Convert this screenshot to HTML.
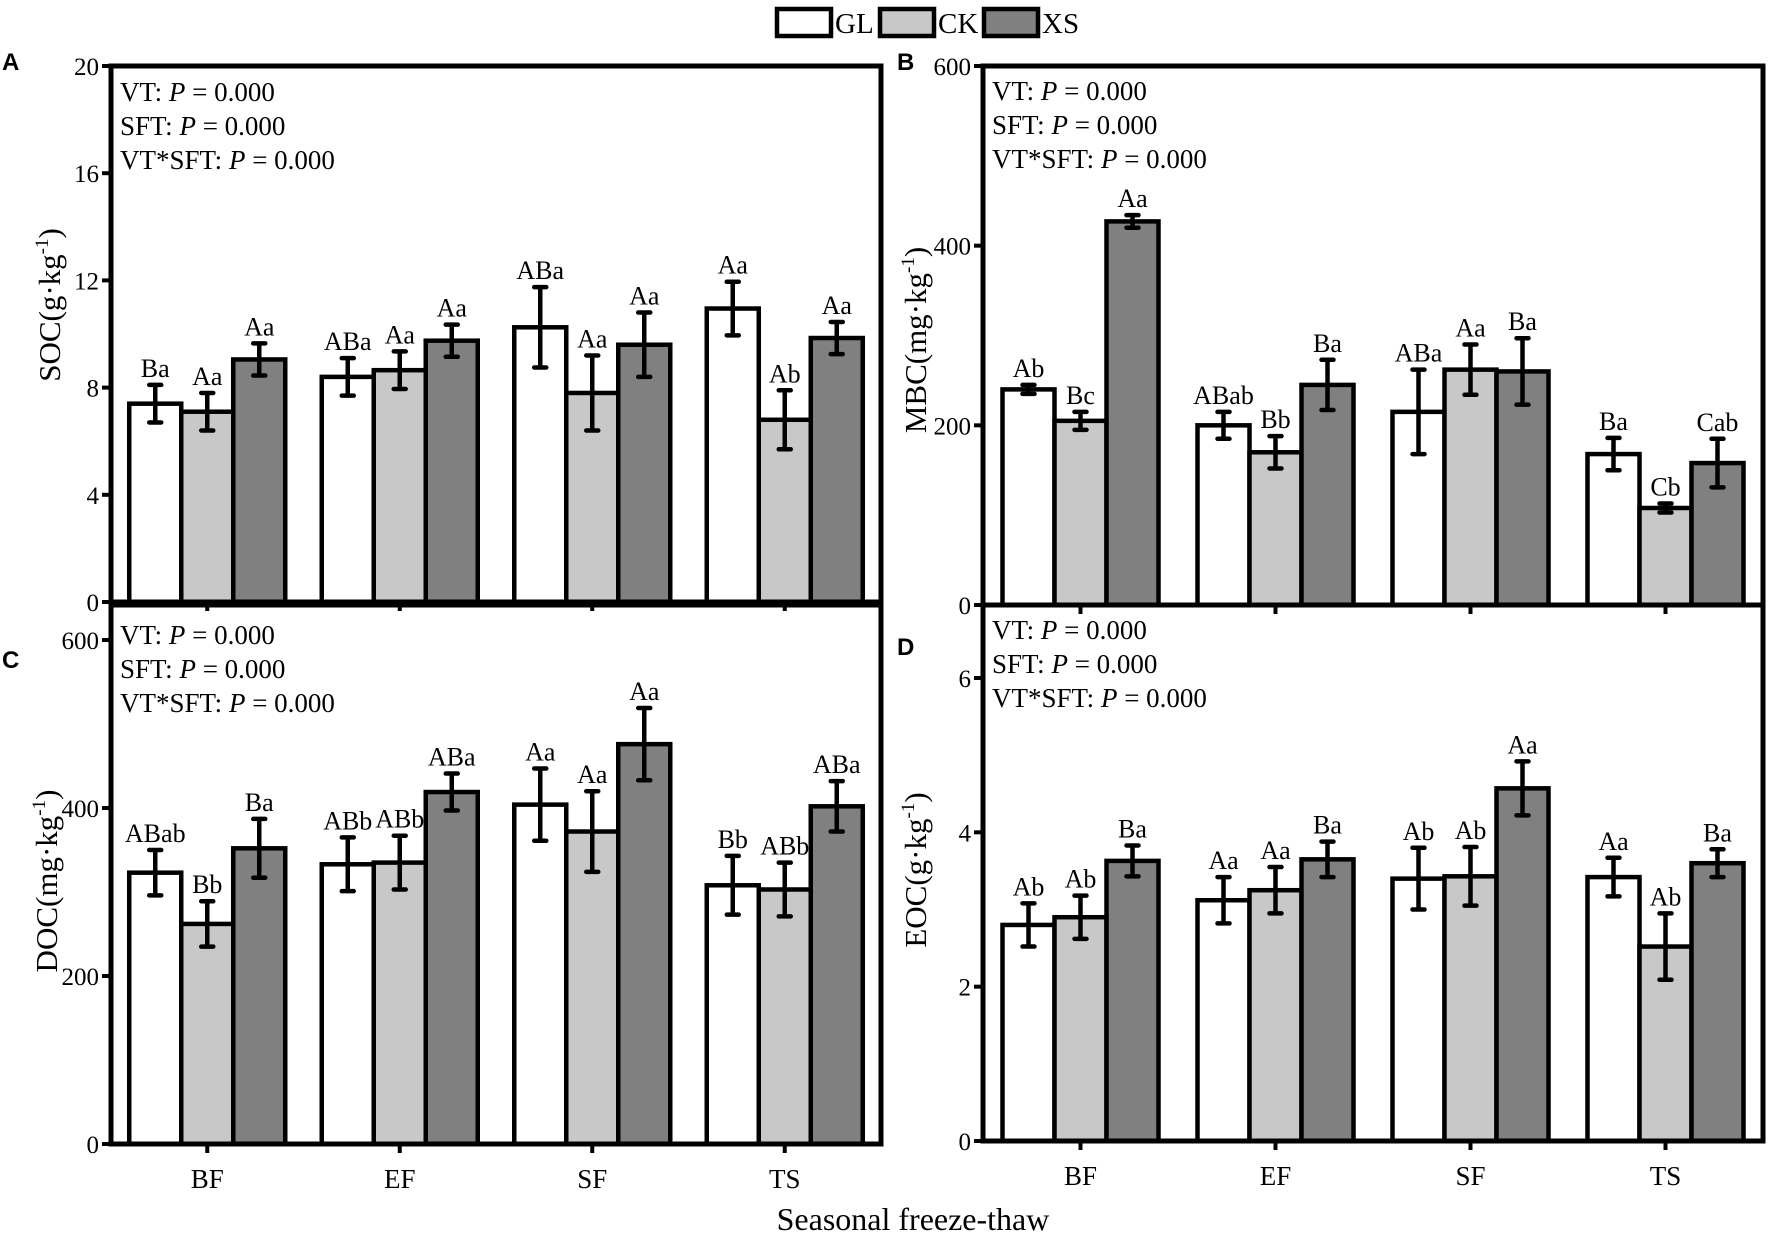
<!DOCTYPE html>
<html><head><meta charset="utf-8"><style>
html,body{margin:0;padding:0;background:#fff}
svg{display:block}
text{font-family:"Liberation Serif",serif;fill:#000}
</style></head><body>
<svg id="fig" width="1772" height="1237" viewBox="0 0 1772 1237">
<g>
<rect x="777" y="9" width="54" height="27" fill="#fff" stroke="#000" stroke-width="4.5"/>
<text x="835" y="33" font-size="29">GL</text>
<rect x="880" y="9" width="54" height="27" fill="#c8c8c8" stroke="#000" stroke-width="4.5"/>
<text x="938" y="33" font-size="29">CK</text>
<rect x="984" y="9" width="54" height="27" fill="#808080" stroke="#000" stroke-width="4.5"/>
<text x="1042" y="33" font-size="29">XS</text>
</g>
<text x="913" y="1230" font-size="32" text-anchor="middle">Seasonal freeze-thaw</text>
</svg>
<script>
const categories = ["BF","EF","SF","TS"];
const socMean = [[7.4,7.1,9.05],[8.4,8.65,9.75],[10.25,7.8,9.6],[10.95,6.8,9.85]];
const socErr = [[0.7,0.7,0.6],[0.7,0.7,0.6],[1.5,1.4,1.2],[1.0,1.1,0.6]];
const socLab = [["Ba","Aa","Aa"],["ABa","Aa","Aa"],["ABa","Aa","Aa"],["Aa","Ab","Aa"]];
const socTicks = [0,4,8,12,16,20];
const mbcMean = [[240,205,427],[200,170,245],[215,262,260],[168,108,158]];
const mbcErr = [[5,10,7],[15,18,28],[47,28,37],[18,5,27]];
const mbcLab = [["Ab","Bc","Aa"],["ABab","Bb","Ba"],["ABa","Aa","Ba"],["Ba","Cb","Cab"]];
const mbcTicks = [0,200,400,600];
const docMean = [[323,262,352],[333,335,419],[404,372,476],[308,303,402]];
const docErr = [[27,27,35],[32,32,22],[43,48,43],[35,32,30]];
const docLab = [["ABab","Bb","Ba"],["ABb","ABb","ABa"],["Aa","Aa","Aa"],["Bb","ABb","ABa"]];
const docTicks = [0,200,400,600];
const eocMean = [[2.8,2.9,3.63],[3.12,3.25,3.65],[3.4,3.43,4.57],[3.42,2.52,3.6]];
const eocErr = [[0.28,0.28,0.2],[0.3,0.3,0.23],[0.4,0.38,0.35],[0.25,0.43,0.18]];
const eocLab = [["Ab","Ab","Ba"],["Aa","Aa","Ba"],["Ab","Ab","Aa"],["Aa","Ab","Ba"]];
const eocTicks = [0,2,4,6];
const seriesNames = ["gl","ck","xs"];
const fills = ["#ffffff","#c8c8c8","#808080"];
const NS = "http://www.w3.org/2000/svg";
const svg = document.getElementById("fig");
function mk(tag, attrs, parent){const e=document.createElementNS(NS,tag);for(const k in attrs)e.setAttribute(k,attrs[k]);(parent||svg).appendChild(e);return e;}
function panel(cfg){
  const g = mk("g",{});
  
  
  const {L,R,T,B,max} = cfg;
  const ys = v => B - (v/max)*(B - cfg.yMaxPix);
  const gw = (R-L)/categories.length;
  const bw = 52;
  categories.forEach((c,i)=>{
    const cx = L + gw*(i+0.5);
    for(let s=0;s<3;s++){
      const v = cfg.mean[i][s], e = cfg.err[i][s];
      const x = cx + (s-1.5)*bw;
      const r = mk("rect",{x:x,y:ys(v),width:bw,height:B-ys(v),fill:fills[s],stroke:"#000","stroke-width":4.5},g);
      
      
      const ex = x + bw/2;
      const eb = mk("path",{d:`M${ex},${ys(v+e)}V${ys(v-e)}M${ex-6},${ys(v+e)}H${ex+6}M${ex-6},${ys(v-e)}H${ex+6}`,stroke:"#000","stroke-width":4.5,fill:"none","stroke-linecap":"round"},g);
      
      
      const t = mk("text",{x:ex,y:ys(v+e)-8,"font-size":26,"text-anchor":"middle"},g);
      t.textContent = cfg.lab[i][s];
      
      
    }
    const tk = mk("line",{x1:cx,x2:cx,y1:B,y2:B+9,stroke:"#000","stroke-width":4},g);
    
    
    if(cfg.xlabels){
      const xl = mk("text",{x:cx,y:B+44,"font-size":27,"text-anchor":"middle"},g);
      xl.textContent = c;
      
      
    }
  });
  const fr = mk("rect",{x:L,y:T,width:R-L,height:B-T,fill:"none",stroke:"#000","stroke-width":5},g);
  
  
  cfg.ticks.forEach(v=>{
    const y = ys(v);
    const tl = mk("line",{x1:L-9,x2:L,y1:y,y2:y,stroke:"#000","stroke-width":4},g);
    
    
    const tt = mk("text",{x:L-12,y:y+9,"font-size":25,"text-anchor":"end"},g);
    tt.textContent = v;
    
    
  });
  const lines = ["VT: ","SFT: ","VT*SFT: "];
  lines.forEach((l,k)=>{
    const st = mk("text",{x:L+9,y:cfg.statY+k*34,"font-size":27},g);
    
    
    st.appendChild(document.createTextNode(l));
    const p = mk("tspan",{"font-style":"italic"},st); p.textContent="P";
    st.appendChild(document.createTextNode(" = 0.000"));
  });
  const yt = mk("text",{x:0,y:0,"font-size":31,"text-anchor":"middle",transform:`translate(${cfg.ytx},${cfg.yty}) rotate(-90)`},g);
  
  
  yt.appendChild(document.createTextNode(cfg.ytitle+"("+cfg.unit+"·kg"));
  const sup = mk("tspan",{"font-size":19,dy:-12},yt); sup.textContent="-1";
  const cl = mk("tspan",{dy:12},yt); cl.textContent=")";
  const pl = mk("text",{x:cfg.lx,y:cfg.ly,"font-size":24,"font-weight":"bold",style:"font-family:'Liberation Sans',sans-serif"},g);
  pl.textContent = cfg.letter;
  
  
}
panel({name:"panel-a-soc",short:"soc",L:111,R:881,T:66,B:602,yMaxPix:66,max:20,mean:socMean,err:socErr,lab:socLab,ticks:socTicks,statY:101,ytitle:"SOC",unit:"g",ytx:60,yty:305,letter:"A",lx:2,ly:70,xlabels:false});
panel({name:"panel-b-mbc",short:"mbc",L:983,R:1763,T:66,B:605,yMaxPix:66,max:600,mean:mbcMean,err:mbcErr,lab:mbcLab,ticks:mbcTicks,statY:100,ytitle:"MBC",unit:"mg",ytx:926,yty:340,letter:"B",lx:897,ly:70,xlabels:false});
panel({name:"panel-c-doc",short:"doc",L:111,R:881,T:605,B:1144,yMaxPix:640,max:600,mean:docMean,err:docErr,lab:docLab,ticks:docTicks,statY:644,ytitle:"DOC",unit:"mg",ytx:57,yty:881,letter:"C",lx:2,ly:668,xlabels:true});
panel({name:"panel-d-eoc",short:"eoc",L:983,R:1763,T:605,B:1141,yMaxPix:678,max:6,mean:eocMean,err:eocErr,lab:eocLab,ticks:eocTicks,statY:639,ytitle:"EOC",unit:"g",ytx:926,yty:870,letter:"D",lx:897,ly:655,xlabels:true});
</script>
</body></html>
